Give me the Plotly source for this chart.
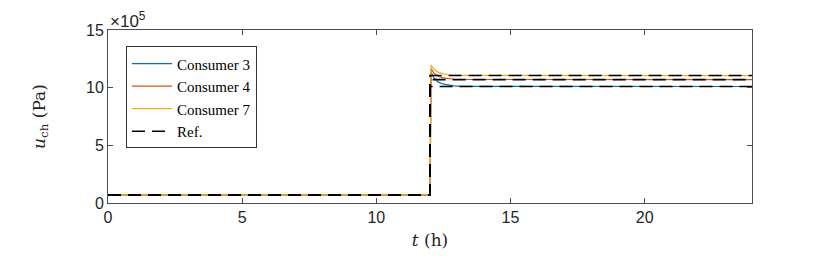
import plotly.graph_objects as go

# time axis (h) and pressures (x 1e5 Pa)
t = [0, 0.02, 12.0, 12.04, 12.15, 12.3, 12.5, 12.7, 12.9, 13.2, 24]
consumer3 = [0.65, 0.7, 0.7, 11.3, 10.85, 10.5, 10.3, 10.2, 10.15, 10.12, 10.1]
consumer4 = [0.65, 0.7, 0.7, 11.65, 11.25, 11.0, 10.85, 10.77, 10.73, 10.71, 10.7]
consumer7 = [0.7, 0.7, 0.7, 11.95, 11.6, 11.35, 11.2, 11.12, 11.08, 11.06, 11.05]

t_ref = [0, 12, 12, 24]
ref3 = [0.7, 0.7, 10.1, 10.1]
ref4 = [0.7, 0.7, 10.7, 10.7]
ref7 = [0.7, 0.7, 11.05, 11.05]

x_ticks = [0, 5, 10, 15, 20]
y_ticks = [0, 5, 10, 15]

fig = go.Figure()

fig.add_trace(go.Scatter(x=t, y=consumer3, mode='lines', name='Consumer 3',
                         line=dict(color='#0072BD', width=1.2)))
fig.add_trace(go.Scatter(x=t, y=consumer4, mode='lines', name='Consumer 4',
                         line=dict(color='#D95319', width=1.2)))
fig.add_trace(go.Scatter(x=t, y=consumer7, mode='lines', name='Consumer 7',
                         line=dict(color='#EDB120', width=1.2)))

# reference steps, dashed black on top
for i, r in enumerate([ref3, ref4, ref7]):
    fig.add_trace(go.Scatter(x=t_ref, y=r, mode='lines', name='Ref.',
                             showlegend=(i == 0),
                             line=dict(color='black', width=1.6, dash='13px,7px')))

axis_style = dict(
    showline=True, linecolor='#4d4d4d', linewidth=1, mirror='ticks',
    ticks='inside', ticklen=5, tickcolor='#4d4d4d', showgrid=False,
    zeroline=False, automargin=False,
    tickfont=dict(family='Liberation Sans, Arial', size=16, color='#262626'),
)

fig.update_xaxes(range=[0, 24], tickvals=x_ticks, **axis_style,
                 title=dict(text='<i>t</i> (h)', standoff=8,
                            font=dict(family='DejaVu Serif', size=17, color='#262626')))
fig.update_yaxes(range=[0, 15], tickvals=y_ticks, **axis_style,
                 title=dict(text='<i>u</i><sub>ch</sub> (Pa)', standoff=36,
                            font=dict(family='DejaVu Serif', size=17, color='#262626')))

fig.add_annotation(text='×10<sup>5</sup>', xref='paper', yref='paper', x=0.0, y=1.0,
                   xanchor='left', yanchor='bottom', showarrow=False, yshift=-3,
                   font=dict(family='Liberation Sans, Arial', size=17, color='#262626'))

# page body has an 8px margin, so margins are shifted to keep the plot box in place
fig.update_layout(
    width=830, height=260,
    margin=dict(l=100, r=86, t=22, b=65),
    plot_bgcolor='white', paper_bgcolor='white',
    legend=dict(x=0.028, y=0.905, xanchor='left', yanchor='top',
                bordercolor='#333333', borderwidth=1, bgcolor='white',
                font=dict(family='Liberation Serif', size=15, color='black'),
                tracegroupgap=0, itemwidth=40),
    showlegend=True,
)

fig.write_html("out.html")
